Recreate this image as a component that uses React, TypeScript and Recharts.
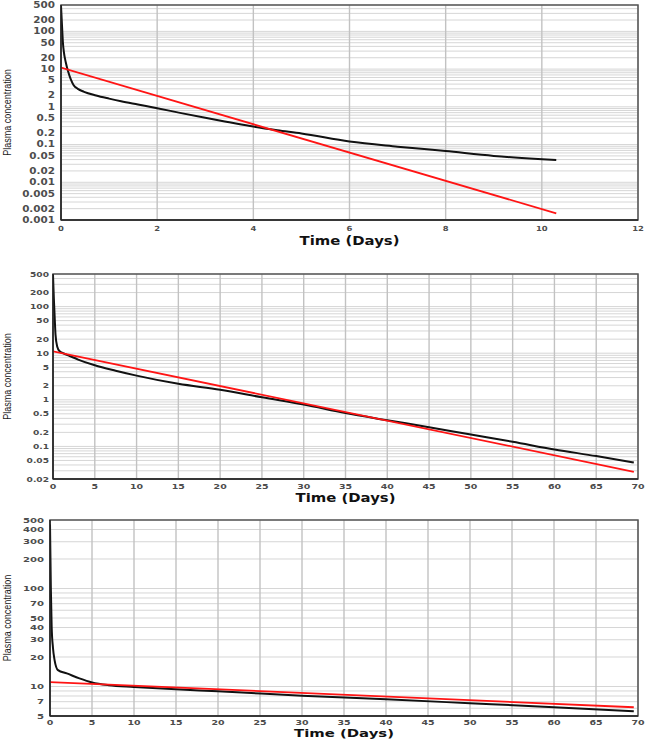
import { CartesianGrid, Line, LineChart, ReferenceArea, XAxis, YAxis } from "recharts";

// ---- panel 1: first 12 days ----
const days1 = [0, 2, 4, 6, 8, 10, 12];
const yLabels1 = ["500", "200", "100", "50", "20", "10", "5", "2", "1", "0.5", "0.2", "0.1", "0.05", "0.02", "0.01", "0.005", "0.002", "0.001"];
const blackT1 = [0, 0.02, 0.04, 0.06, 0.1, 0.15, 0.2, 0.26, 0.35, 0.48, 0.73, 1, 1.25, 1.6, 2, 2.5, 3, 3.5, 4, 4.5, 5, 6, 7, 8, 9, 10.3];
const blackC1 = [480, 150, 50, 28, 15, 8.5, 5.5, 3.8, 3.0, 2.5, 2.0, 1.65, 1.4, 1.15, 0.92, 0.68, 0.51, 0.39, 0.3, 0.24, 0.197, 0.12, 0.088, 0.067, 0.05, 0.039];
const redT1 = [0, 10.3];
const redC1 = [10.9, 0.0015];

// ---- panel 2: 70 days ----
const days70 = [0, 5, 10, 15, 20, 25, 30, 35, 40, 45, 50, 55, 60, 65, 70];
const yLabels2 = ["500", "200", "100", "50", "20", "10", "5", "2", "1", "0.5", "0.2", "0.1", "0.05", "0.02"];
const blackT2 = [0, 0.1, 0.2, 0.3, 0.5, 0.8, 1.2, 2, 3, 5, 7.5, 10, 15, 20, 25, 30, 35, 40, 45, 50, 55, 60, 65, 69.5];
const blackC2 = [480, 150, 60, 25, 14, 11, 10, 8.7, 7.3, 5.5, 4.2, 3.3, 2.2, 1.65, 1.13, 0.79, 0.52, 0.365, 0.258, 0.18, 0.126, 0.086, 0.062, 0.045];
const redT2 = [0, 69.5];
const redC2 = [10.9, 0.0286];

// ---- panel 3: 70 days, narrow range ----
const yLabels3 = ["500", "400", "300", "200", "100", "70", "50", "40", "30", "20", "10", "7", "5"];
const blackT3 = [0, 0.1, 0.2, 0.35, 0.55, 0.95, 2, 3.5, 5, 7, 10, 15, 20, 30, 40, 50, 60, 69.5];
const blackC3 = [450, 100, 40, 25, 18.5, 14.7, 13.6, 12.1, 11, 10.3, 9.9, 9.35, 8.95, 8.05, 7.4, 6.75, 6.15, 5.6];
const redT3 = [0, 69.5];
const redC3 = [11.1, 6.14];

const rows = (t: number[], c: number[]) => t.map((v, i) => ({ t: v, c: c[i] }));

// minor log grid: 1..9 x each decade inside [lo, hi]
function logGrid(lo: number, hi: number) {
  const out: number[] = [];
  for (let e = Math.floor(Math.log10(lo)); e <= Math.floor(Math.log10(hi)); e++) {
    for (let m = 1; m <= 9; m++) {
      const v = Number((m * Math.pow(10, e)).toPrecision(6));
      if (v >= lo * 0.999 && v <= hi * 1.001) out.push(v);
    }
  }
  return out;
}

function labelFor(v: number, labels: string[]) {
  const hit = labels.find((l) => Math.abs(Number(l) / v - 1) < 1e-6);
  return hit ?? "";
}

function ScaledTick(props: any) {
  const { x, y, payload, anchor, size, sx, labels, dy } = props;
  const text = labels ? labelFor(payload.value, labels) : String(payload.value);
  if (!text) return <g />;
  return (
    <g transform={`translate(${x},${y})`}>
      <text
        transform={`scale(${sx},1)`}
        textAnchor={anchor}
        dy={dy}
        fontSize={size}
        fontWeight="bold"
        fill="#4d4d4d"
        fontFamily="DejaVu Sans, sans-serif"
      >
        {text}
      </text>
    </g>
  );
}

interface PanelProps {
  top: number;
  height: number;
  marginTop: number;
  yWidth: number;
  xHeight: number;
  xTicks: number[];
  yLabels: string[];
  black: { t: number; c: number }[];
  red: { t: number; c: number }[];
  yFont: number;
  ySx: number;
  yGap: number;
  xFont: number;
  xSx: number;
  xGap: number;
  titleGap: number;
  titleFont: number;
}

function Panel(p: PanelProps) {
  const yVals = p.yLabels.map(Number);
  const yMin = Math.min(...yVals);
  const yMax = Math.max(...yVals);
  const xMax = p.xTicks[p.xTicks.length - 1];
  const grid = logGrid(yMin, yMax);
  return (
    <div style={{ position: "absolute", left: 0, top: p.top }}>
      <LineChart width={646} height={p.height} margin={{ top: p.marginTop, right: 8, bottom: 0, left: 0 }}>
        <CartesianGrid vertical={false} stroke="#d6d6d6" strokeWidth={1} />
        <CartesianGrid horizontal={false} stroke="#c2c2c2" strokeWidth={1.4} />
        <XAxis
          type="number"
          dataKey="t"
          domain={[0, xMax]}
          ticks={p.xTicks}
          interval={0}
          allowDataOverflow
          height={p.xHeight}
          tickLine={false}
          tickSize={p.xGap}
          tickMargin={0}
          axisLine={{ stroke: "#222", strokeWidth: 1.5 }}
          tick={(tp: any) => <ScaledTick {...tp} anchor="middle" size={p.xFont} sx={p.xSx} dy="0.71em" />}
          label={(lp: any) => {
            const vb = lp.viewBox;
            return (
              <g transform={`translate(${vb.x + vb.width / 2},${vb.y + p.titleGap})`}>
                <text
                  transform={`scale(${(1.19 * 12.5) / p.titleFont},1)`}
                  textAnchor="middle"
                  dy="0.36em"
                  fontSize={p.titleFont}
                  fontWeight="bold"
                  fill="#111"
                  fontFamily="DejaVu Sans, sans-serif"
                >
                  Time  (Days)
                </text>
              </g>
            );
          }}
        />
        <YAxis
          type="number"
          scale="log"
          domain={[yMin, yMax]}
          ticks={grid}
          interval={0}
          allowDataOverflow
          width={p.yWidth}
          tickLine={false}
          tickSize={p.yGap}
          tickMargin={0}
          axisLine={{ stroke: "#222", strokeWidth: 1.5 }}
          tick={(tp: any) => (
            <ScaledTick {...tp} anchor="end" size={p.yFont} sx={p.ySx} dy="0.36em" labels={p.yLabels} />
          )}
          label={(lp: any) => {
            const vb = lp.viewBox;
            return (
              <g transform={`translate(${vb.x + 7.5},${vb.y + vb.height / 2}) rotate(-90)`}>
                <text
                  transform="scale(0.86,1)"
                  textAnchor="middle"
                  dy="0.36em"
                  fontSize={10.5}
                  fill="#1a1a1a"
                  fontFamily="Liberation Sans, Arial, sans-serif"
                >
                  Plasma concentration
                </text>
              </g>
            );
          }}
        />
        <ReferenceArea x1={0} x2={xMax} y1={yMin} y2={yMax} fill="none" stroke="#555" strokeWidth={1.5} />
        <Line data={p.black} dataKey="c" type="monotone" stroke="#111" strokeWidth={2} dot={false} isAnimationActive={false} />
        <Line data={p.red} dataKey="c" type="linear" stroke="#ff1414" strokeWidth={1.8} dot={false} isAnimationActive={false} />
      </LineChart>
    </div>
  );
}

export default function App() {
  return (
    <div style={{ position: "absolute", left: 0, top: 0, width: 646, height: 740, background: "#fff", overflow: "hidden" }}>
      <Panel
        top={0}
        height={250}
        marginTop={5}
        yWidth={61}
        xHeight={30}
        xTicks={days1}
        yLabels={yLabels1}
        black={rows(blackT1, blackC1)}
        red={rows(redT1, redC1)}
        yFont={8}
        ySx={1.3}
        yGap={6}
        xFont={7}
        xSx={1.2}
        xGap={6}
        titleGap={20.5}
        titleFont={12.5}
      />
      <Panel
        top={250}
        height={262}
        marginTop={24}
        yWidth={53}
        xHeight={33}
        xTicks={days70}
        yLabels={yLabels2}
        black={rows(blackT2, blackC2)}
        red={rows(redT2, redC2)}
        yFont={7}
        ySx={1.3}
        yGap={4}
        xFont={7}
        xSx={1.35}
        xGap={5}
        titleGap={19}
        titleFont={12}
      />
      <Panel
        top={500}
        height={246}
        marginTop={20}
        yWidth={50}
        xHeight={30}
        xTicks={days70}
        yLabels={yLabels3}
        black={rows(blackT3, blackC3)}
        red={rows(redT3, redC3)}
        yFont={7.5}
        ySx={1.35}
        yGap={6}
        xFont={7}
        xSx={1.35}
        xGap={4}
        titleGap={17.5}
        titleFont={10.5}
      />
    </div>
  );
}
